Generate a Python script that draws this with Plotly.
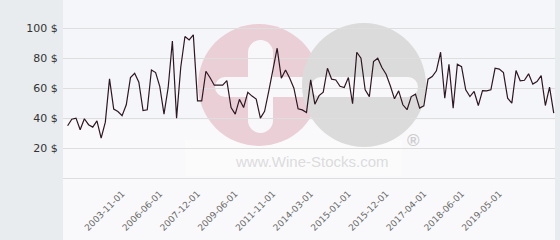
import plotly.graph_objects as go

prices = [34.9, 39.3, 40, 32.2, 39.6, 35.6, 34, 38.2, 26.7, 37.3,
          66.2, 46, 44.4, 41.6, 48.9, 67.1, 70, 64, 45.1, 45.6,
          72.2, 70.4, 61, 42.7, 60.5, 91.5, 40, 74, 94.5, 92.2,
          95.6, 51.5, 51.5, 71.3, 67, 62, 62, 62, 65, 47,
          42.7, 52.5, 47.1, 57.2, 54.7, 52.7, 40, 44.5, 58, 73.3,
          86.7, 66.7, 72.2, 66.7, 60, 46.2, 45.5, 43.8, 65.5, 49.3,
          55, 57.3, 73.3, 66, 65.5, 61.3, 60.4, 67.1, 49.6, 84,
          80, 58.9, 54.4, 77.8, 80, 73.8, 69.3, 61.6, 52.9, 58.2,
          48.9, 45.6, 54.4, 56, 46.7, 48.2, 66, 67.8, 71.6, 84,
          53.3, 76, 46.7, 76, 74.4, 58.9, 54.4, 57.8, 48.4, 58.4,
          58.2, 58.9, 73.3, 72.7, 70.4, 53.3, 50, 71.8, 64.9, 65.3,
          69.6, 62.7, 64.4, 68.4, 48.4, 60.7, 43.3]

tick_labels = ["2003-11-01", "2006-06-01", "2007-12-01", "2009-06-01",
               "2011-11-01", "2014-03-01", "2015-01-01", "2015-12-01",
               "2017-04-01", "2018-06-01", "2019-05-01"]
tick_index = [13, 22, 31, 40, 49, 58, 67, 76, 85, 94, 103]
y_ticks = [20, 40, 60, 80, 100]
y_tick_labels = ["20 $", "40 $", "60 $", "80 $", "100 $"]

W, H = 560, 240
L, R, T, B = 63, 5, 0, 62
PW, PH = W - L - R, H - T - B


def px(x):
    return (x - L) / PW


def py(y):
    return (H - B - y) / PH


x_idx = list(range(len(prices)))

fig = go.Figure()
fig.add_trace(go.Scatter(x=x_idx, y=prices, mode="lines",
                         line=dict(color="#2e1722", width=1.2),
                         hoverinfo="skip"))

shapes = []
shapes.append(dict(type="rect", xref="paper", yref="paper", x0=0, x1=1,
                   y0=py(H), y1=1, fillcolor="#f5f6f9", line_width=0, layer="below"))
shapes.append(dict(type="rect", xref="paper", yref="paper", x0=0, x1=1,
                   y0=py(H), y1=py(120), fillcolor="#f9f9fb", line_width=0, layer="below"))


def circ(cx, cy, r, color):
    shapes.append(dict(type="circle", xref="paper", yref="paper",
                       x0=px(cx - r), x1=px(cx + r), y0=py(cy + r), y1=py(cy - r),
                       fillcolor=color, line_width=0, layer="below"))


def rect(x0, x1, y0, y1, color):
    shapes.append(dict(type="rect", xref="paper", yref="paper",
                       x0=px(x0), x1=px(x1), y0=py(y1), y1=py(y0),
                       fillcolor=color, line_width=0, layer="below"))


def hpill(x0, x1, y0, y1, color):
    r = (y1 - y0) / 2
    rect(x0 + r, x1 - r, y0, y1, color)
    circ(x0 + r, y0 + r, r, color)
    circ(x1 - r, y0 + r, r, color)


def vpill(x0, x1, y0, y1, color):
    r = (x1 - x0) / 2
    rect(x0, x1, y0 + r, y1 - r, color)
    circ(x0 + r, y0 + r, r, color)
    circ(x0 + r, y1 - r, r, color)


bgw = "#f8f8fa"
rect(185, 402, 140, 176, "#fbfbfc")
circ(259, 85, 61, "#eacfd6")
vpill(248, 273, 40, 133, bgw)
hpill(215, 315, 77, 97, bgw)
circ(364, 85, 62, "#dbdbdb")
hpill(311, 418, 77, 97, bgw)

fig.update_layout(shapes=shapes)
fig.add_annotation(text="www.Wine-Stocks.com", xref="paper", yref="paper",
                   x=px(312), y=py(161), showarrow=False,
                   font=dict(family="Liberation Sans", size=15, color="#dcdcdc"),
                   xanchor="center", yanchor="middle")
fig.add_annotation(text="<b>®</b>", xref="paper", yref="paper",
                   x=px(413), y=py(140), showarrow=False,
                   font=dict(family="Liberation Sans", size=17, color="#cdcdcd"),
                   xanchor="center", yanchor="middle")

fig.update_layout(
    width=W, height=H,
    margin=dict(l=L, r=R, t=T, b=B, pad=0),
    paper_bgcolor="#e8ecef",
    plot_bgcolor="rgba(0,0,0,0)",
    showlegend=False,
    xaxis=dict(range=[-1.1, 116.3], tickvals=tick_index, ticktext=tick_labels,
               tickangle=-45, showgrid=False, zeroline=False,
               showline=True, linecolor="#dedede", linewidth=1,
               ticks="outside", ticklen=6, tickcolor="rgba(0,0,0,0)",
               tickfont=dict(family="DejaVu Sans", size=9, color="#6a6a6a")),
    yaxis=dict(range=[0, 118.9], tickvals=y_ticks, ticktext=y_tick_labels,
               showgrid=True, gridcolor="#dedede", gridwidth=1, zeroline=False,
               showline=False, ticks="outside", ticklen=2, tickcolor="rgba(0,0,0,0)",
               tickfont=dict(family="DejaVu Sans", size=11, color="#333333")),
)

fig.write_html("out.html")
